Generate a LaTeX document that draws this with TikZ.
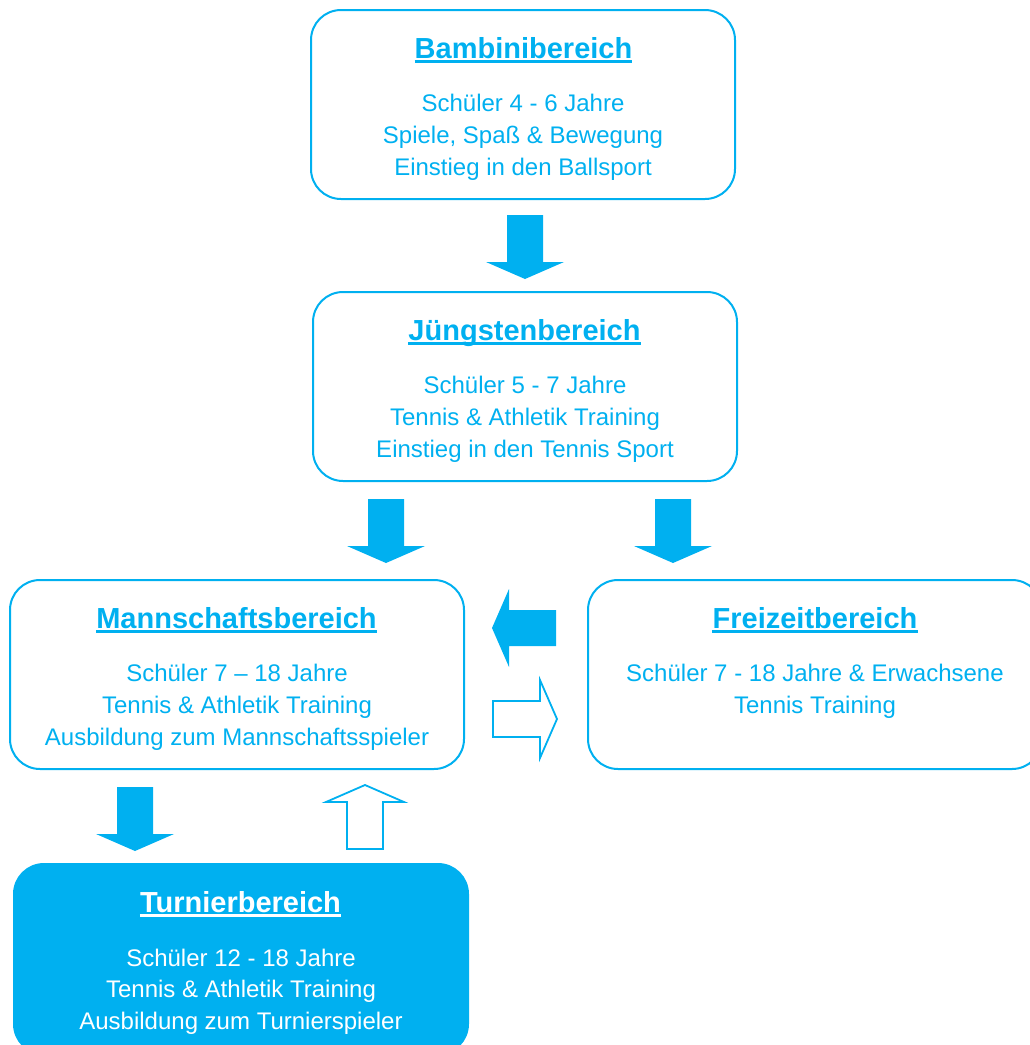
\documentclass[tikz,border=0pt]{standalone}
\usepackage{fontspec}
\setmainfont{Liberation Sans}
\definecolor{lb}{HTML}{00B0F0}
\tikzset{
  box/.style={draw=lb, line width=2pt, rounded corners=30pt, inner sep=0pt, minimum height=189pt},
  titletext/.style={font=\fontsize{29}{34}\selectfont\bfseries, text=lb, inner sep=0pt, anchor=base},
  bodytext/.style={font=\fontsize{24}{31.7}\selectfont, text=lb, align=center, inner sep=0pt, anchor=north},
  uline/.style={lb, line width=2.8pt},
  blockfill/.style={fill=lb},
  blockopen/.style={draw=lb, line width=1.8pt, fill=white, line join=miter},
  pics/dnarrow/.style={code={\path[pic actions] (-18,-64) -- (18,-64) -- (18,-17) -- (39,-17) -- (0,0) -- (-39,-17) -- (-18,-17) -- cycle;}}
}
\begin{document}
\begin{tikzpicture}[x=1pt,y=-1pt]
\useasboundingbox (0,0) rectangle (1030,1045);
\clip (0,0) rectangle (1030,1045);
% boxes
\node[box, minimum width=424pt] (bambini) at (523,104.5) {};
\node[box, minimum width=424pt] (juengsten) at (525,386.5) {};
\node[box, minimum width=454pt] (mannschaft) at (237,674.5) {};
\node[box, minimum width=454pt] (freizeit) at (815,674.5) {};
\node[box, minimum width=454pt, fill=lb, minimum height=190pt] (turnier) at (241,959) {};
% titles
\node[titletext] (tbam) at (523.5,58.3) {Bambinibereich};
\node[titletext] (tjue) at (524.5,340.3) {Jüngstenbereich};
\node[titletext] (tman) at (236.5,628.3) {Mannschaftsbereich};
\node[titletext] (tfre) at (815,628.3) {Freizeitbereich};
\node[titletext, text=white] (ttur) at (240.5,912.3) {Turnierbereich};
\foreach \t in {tbam,tjue,tman,tfre}
  \draw[uline] ([yshift=-3.2pt]\t.base west) -- ([yshift=-3.2pt]\t.base east);
\draw[uline, white] ([yshift=-3.2pt]ttur.base west) -- ([yshift=-3.2pt]ttur.base east);
% bodies
\node[bodytext] (bbam) at (523,94.2) {Schüler 4 - 6 Jahre\\Spiele, Spaß \& Bewegung\\Einstieg in den Ballsport};
\node[bodytext] (bjue) at (525,376.2) {Schüler 5 - 7 Jahre\\Tennis \& Athletik Training\\Einstieg in den Tennis Sport};
\node[bodytext] (bman) at (237,664.2) {Schüler 7 – 18 Jahre\\Tennis \& Athletik Training\\Ausbildung zum Mannschaftsspieler};
\node[bodytext] (bfre) at (815,664.2) {Schüler 7 - 18 Jahre \& Erwachsene\\Tennis Training};
\node[bodytext, text=white] (btur) at (241,948.5) {Schüler 12 - 18 Jahre\\Tennis \& Athletik Training\\Ausbildung zum Turnierspieler};
% arrows
\coordinate (a1) at (525,279);
\coordinate (a2) at (386,563);
\coordinate (a3) at (673,563);
\coordinate (a4) at (492,628);
\coordinate (a5) at (557,719);
\coordinate (a6) at (135,851);
\coordinate (a7) at (365,785);
\path (a1) pic[blockfill] {dnarrow};
\path (a2) pic[blockfill] {dnarrow};
\path (a3) pic[blockfill] {dnarrow};
\path (a4) pic[blockfill, rotate=-90] {dnarrow};
\path (a5) pic[blockopen, rotate=90] {dnarrow};
\path (a6) pic[blockfill] {dnarrow};
\path (a7) pic[blockopen, rotate=180] {dnarrow};
\end{tikzpicture}
\end{document}
